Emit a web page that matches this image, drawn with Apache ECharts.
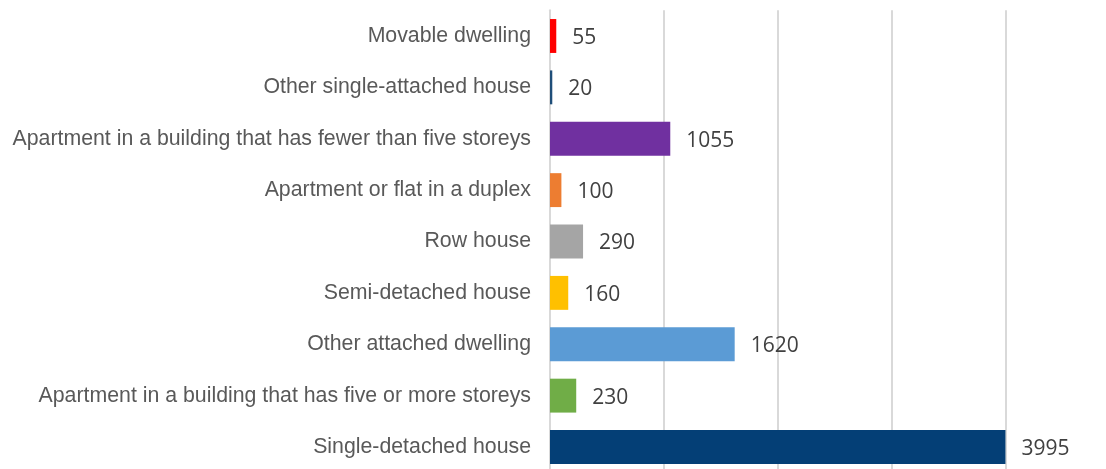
<!DOCTYPE html>
<html>
<head>
<meta charset="utf-8">
<script src="https://cdn.jsdelivr.net/npm/echarts@6/dist/echarts.min.js"></script>
<style>
  html, body { margin: 0; padding: 0; background: #fff; overflow: hidden; }
  #chart { width: 1106px; height: 480px; }
</style>
</head>
<body>
<div id="chart"></div>
<script>
// categories listed bottom to top
const categories = [
  'Single-detached house',
  'Apartment in a building that has five or more storeys',
  'Other attached dwelling',
  'Semi-detached house',
  'Row house',
  'Apartment or flat in a duplex',
  'Apartment in a building that has fewer than five storeys',
  'Other single-attached house',
  'Movable dwelling'
];
const values = [3995, 230, 1620, 160, 290, 100, 1055, 20, 55];
const barColors = ['#043f76', '#70ad47', '#5b9bd5', '#ffc000', '#a5a5a5', '#ed7d31', '#7030a0', '#1f4e79', '#ff0000'];

// chart box is a bit taller than the window: the plot runs past the bottom edge
const chart = echarts.init(document.getElementById('chart'));

chart.setOption({
  animation: false,
  grid: { left: 550, right: 100, top: 10.3, height: 462.4, containLabel: false },
  xAxis: {
    type: 'value',
    min: 0,
    max: 4000,
    interval: 1000,
    axisLabel: { show: false },
    axisTick: { show: false },
    axisLine: { show: false },
    splitLine: { lineStyle: { color: '#d9d9d9', width: 2 } }
  },
  yAxis: {
    type: 'category',
    data: categories,
    axisTick: { show: false },
    axisLine: { show: true, lineStyle: { color: '#d9d9d9', width: 2 } },
    axisLabel: {
      margin: 19,
      color: '#595959',
      fontSize: 21.3,
      fontFamily: 'Liberation Sans, Arial, sans-serif'
    }
  },
  series: [{
    type: 'bar',
    data: values.map((v, i) => ({ value: v, itemStyle: { color: barColors[i] } })),
    barCategoryGap: '34%',
    label: {
      show: true,
      position: 'right',
      distance: 16,
      color: '#404040',
      fontSize: 21,
      fontFamily: 'Open Sans, sans-serif',
      offset: [0, 2]
    }
  }]
});
</script>
</body>
</html>
